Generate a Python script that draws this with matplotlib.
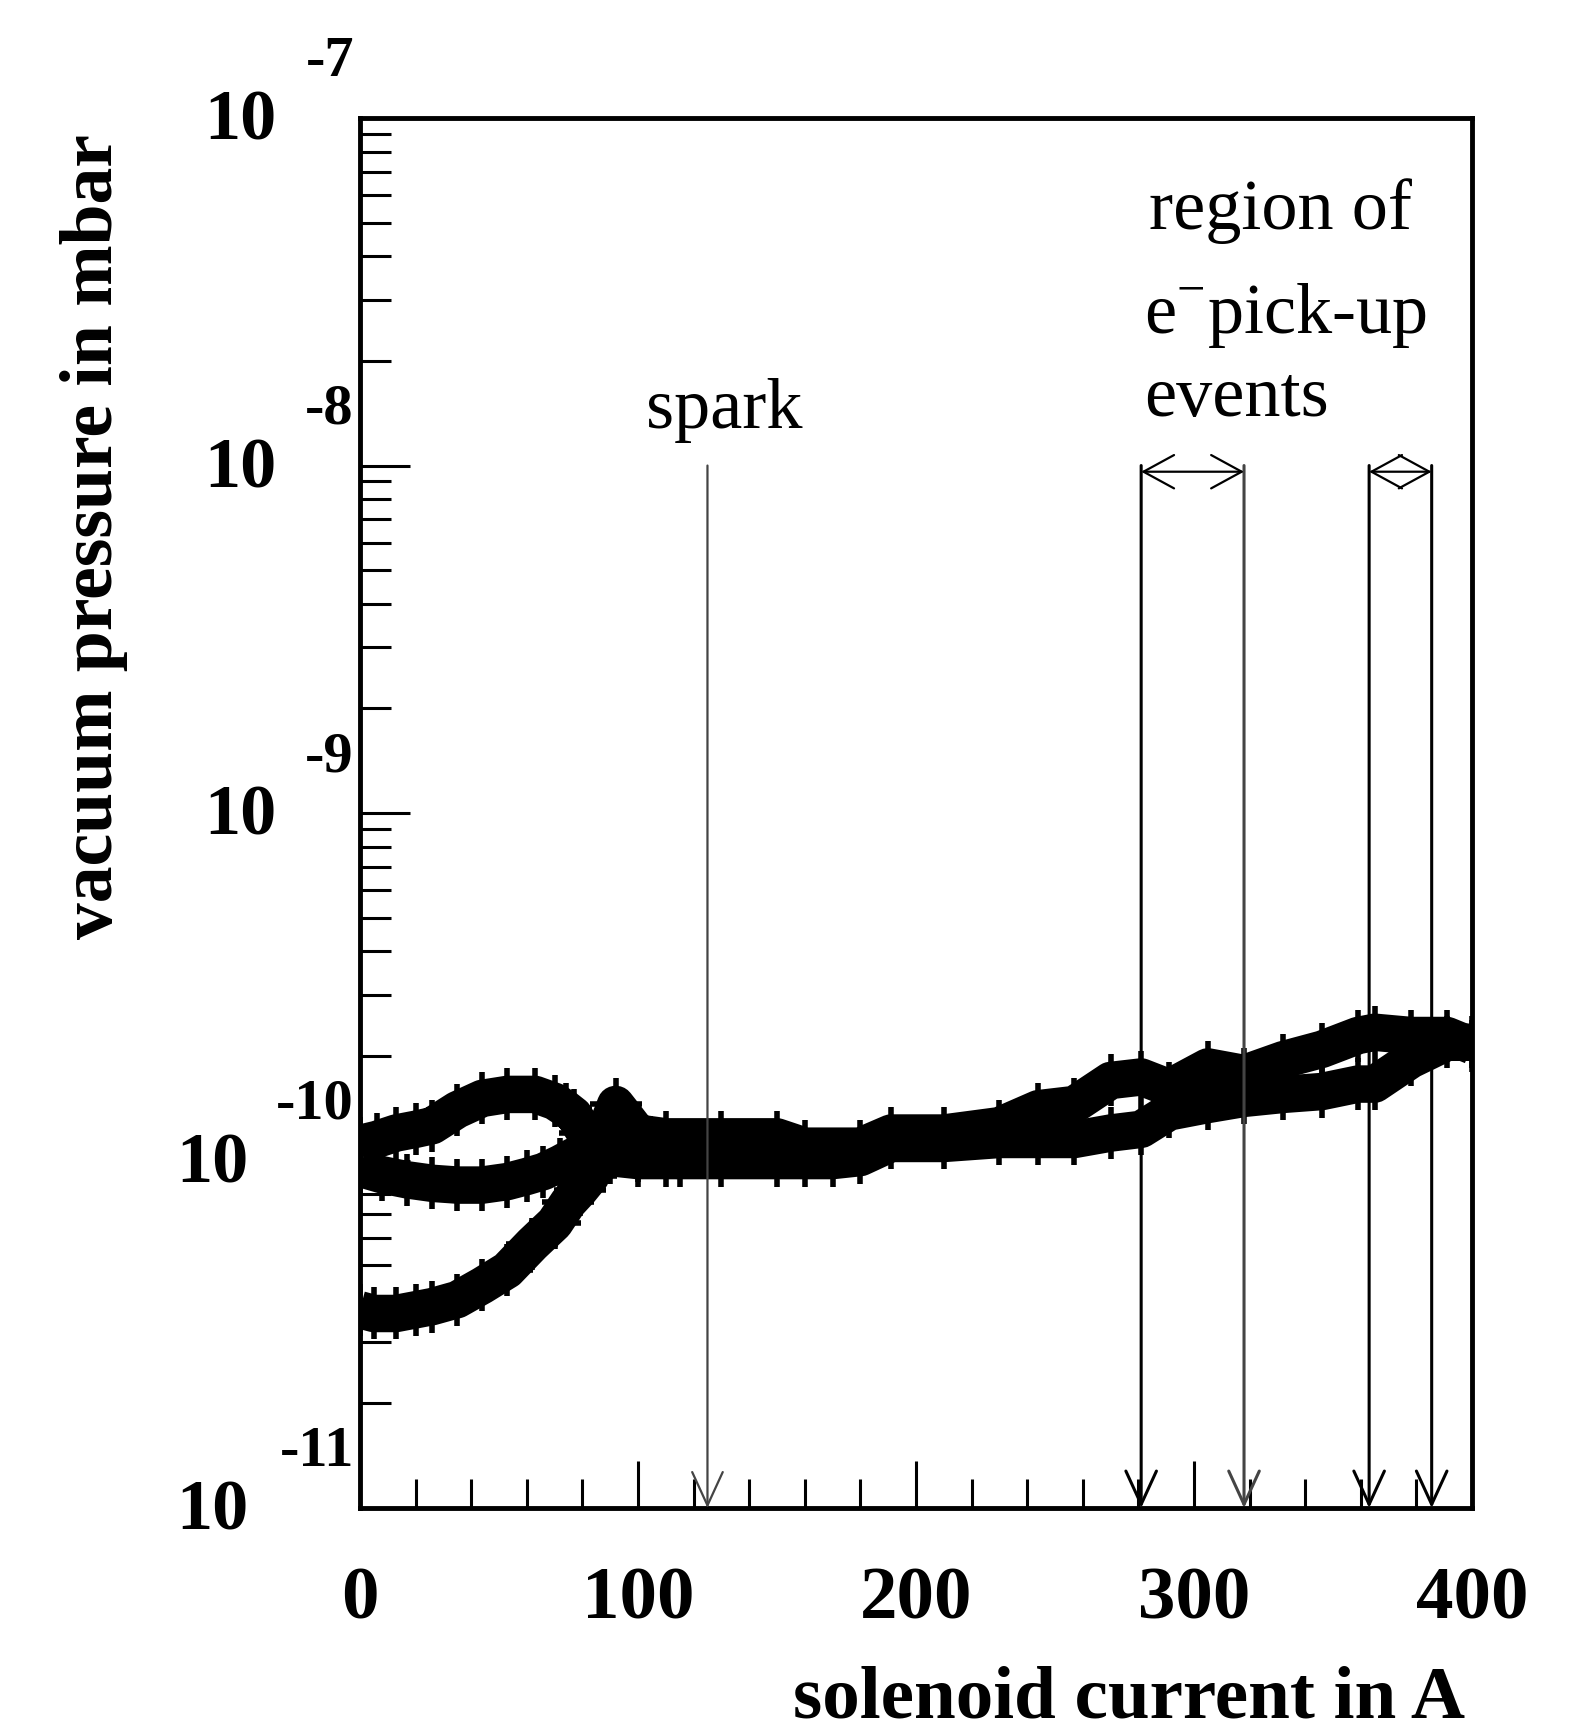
import numpy as np
import matplotlib.pyplot as plt

plt.rcParams['font.family'] = ['Liberation Serif', 'DejaVu Serif']
plt.rcParams['mathtext.fontset'] = 'custom'
plt.rcParams['mathtext.rm'] = 'Liberation Serif'

# ramp up: starts low, bump near 90 A, upper band to 400 A
up_current = [0, 5, 13, 20, 26, 35, 44, 53, 62, 70, 75, 79, 83, 88, 92, 96, 100,
              110, 130, 150, 160, 180, 191, 210, 230, 244, 257, 270, 281, 291,
              305, 318, 332, 346, 359, 365, 378, 391, 400]
up_pressure = [3.72e-11, 3.63e-11, 3.63e-11, 3.72e-11, 3.80e-11, 3.98e-11, 4.37e-11,
               4.84e-11, 5.75e-11, 6.61e-11, 7.59e-11, 8.22e-11, 9.0e-11, 1.20e-10,
               1.45e-10, 1.32e-10, 1.20e-10, 1.17e-10, 1.17e-10, 1.17e-10, 1.10e-10,
               1.10e-10, 1.20e-10, 1.20e-10, 1.26e-10, 1.41e-10, 1.45e-10, 1.70e-10,
               1.74e-10, 1.62e-10, 1.86e-10, 1.78e-10, 1.95e-10, 2.09e-10, 2.29e-10,
               2.34e-10, 2.29e-10, 2.29e-10, 2.14e-10]

# ramp down: lower band from 400 A, then upper side of the small loop
down_current = [400, 391, 378, 365, 359, 346, 332, 318, 305, 291, 281, 270, 257, 244,
                230, 210, 191, 180, 170, 160, 150, 130, 110, 100, 90, 86, 81, 77, 74,
                70, 63, 53, 44, 35, 26, 20, 13, 6, 0]
down_pressure = [2.19e-10, 2.19e-10, 1.95e-10, 1.66e-10, 1.66e-10, 1.58e-10, 1.55e-10,
                 1.51e-10, 1.45e-10, 1.38e-10, 1.23e-10, 1.20e-10, 1.15e-10, 1.15e-10,
                 1.15e-10, 1.12e-10, 1.12e-10, 1.02e-10, 1.00e-10, 1.00e-10, 1.00e-10,
                 1.00e-10, 1.00e-10, 1.00e-10, 1.02e-10, 1.07e-10, 1.20e-10, 1.35e-10,
                 1.41e-10, 1.48e-10, 1.55e-10, 1.55e-10, 1.51e-10, 1.40e-10, 1.26e-10,
                 1.23e-10, 1.20e-10, 1.15e-10, 1.12e-10]

# second ramp up: lower side of the small loop
loop_current = [0, 8, 17, 26, 35, 44, 53, 60, 66, 72, 77, 82, 90, 100, 115]
loop_pressure = [9.5e-11, 9.1e-11, 8.8e-11, 8.6e-11, 8.5e-11, 8.5e-11, 8.7e-11, 9.0e-11,
                 9.3e-11, 9.8e-11, 1.03e-10, 1.05e-10, 1.05e-10, 1.03e-10, 1.0e-10]

spark_current = 125
pickup_lines = [281, 318, 363, 385.5]
pickup_pairs = [(281, 318), (363, 385.5)]

xticks = [0, 100, 200, 300, 400]
ydecades = [-7, -8, -9, -10, -11]

fig = plt.figure(figsize=(15.85, 17.36), dpi=100)
ax = fig.add_axes([0.2271, 0.1313, 0.7016, 0.8007])
ax.set_yscale('log')
ax.set_xlim(0, 400)
ax.set_ylim(1e-11, 1e-7)

for cur, pres in [(up_current, up_pressure), (down_current, down_pressure),
                  (loop_current, loop_pressure)]:
    ax.plot(cur, pres, color='black', lw=27, solid_capstyle='butt',
            solid_joinstyle='round')
    ax.plot(cur, pres, ls='none', marker='+', ms=38, mew=4, color='black')

# event markers
ax.annotate('', xy=(spark_current, 1e-11), xytext=(spark_current, 1e-8),
            arrowprops=dict(arrowstyle='->,head_length=1.2,head_width=0.55',
                            color='#444444', lw=1.6, shrinkA=0, shrinkB=0,
                            mutation_scale=20))
for i, xl in enumerate(pickup_lines):
    col = '#444444' if i == 1 else 'black'
    ax.annotate('', xy=(xl, 1e-11), xytext=(xl, 1e-8),
                arrowprops=dict(arrowstyle='->,head_length=1.2,head_width=0.55',
                                color=col, lw=2.2, shrinkA=0, shrinkB=0,
                                mutation_scale=20))
for a, b in pickup_pairs:
    ax.annotate('', xy=(b, 9.6e-9), xytext=(a, 9.6e-9),
                arrowprops=dict(arrowstyle='<->,head_length=1.1,head_width=0.6',
                                color='black', lw=1.6, shrinkA=0, shrinkB=0,
                                mutation_scale=20))

ax.text(131, 1.28e-8, 'spark', fontsize=52, ha='center', va='baseline')
ax.text(283.8, 4.81e-8, 'region of', fontsize=52, ha='left', va='baseline')
ax.text(282, 2.41e-8, 'e$^{-}$pick-up', fontsize=52, ha='left', va='baseline')
ax.text(282, 1.39e-8, 'events', fontsize=52, ha='left', va='baseline')

# axes styling
for s in ax.spines.values():
    s.set_linewidth(3.5)
ax.set_xticks(xticks)
ax.set_xticks(np.arange(0, 401, 20), minor=True)
ax.set_xticklabels([str(v) for v in xticks], fontsize=54, fontweight='bold')
ax.tick_params(axis='x', which='major', direction='in', length=34, width=2.2, pad=42)
ax.tick_params(axis='x', which='minor', direction='in', length=21, width=2.2)
ax.tick_params(axis='y', which='major', direction='in', length=36, width=2.2,
               labelleft=False)
ax.tick_params(axis='y', which='minor', direction='in', length=22, width=2.2)
ax.yaxis.set_minor_locator(plt.matplotlib.ticker.LogLocator(base=10, subs=np.arange(2, 10)))
ax.yaxis.set_minor_formatter(plt.NullFormatter())

for e in ydecades:
    exp = str(e)
    ax.annotate(exp, xy=(0, 10.0 ** e), xycoords=('axes fraction', 'data'),
                xytext=(-6, 56), textcoords='offset pixels', ha='right', va='center',
                fontsize=42, fontweight='bold', annotation_clip=False)
    off = -83 if len(exp) == 2 else -111
    ax.annotate('10', xy=(0, 10.0 ** e), xycoords=('axes fraction', 'data'),
                xytext=(off, -4), textcoords='offset pixels', ha='right', va='center',
                fontsize=52, fontweight='bold', annotation_clip=False)

fig.text(0.0593, 0.6907, 'vacuum pressure in mbar', rotation=90, ha='center',
         va='center', fontsize=53, fontweight='bold')
fig.text(0.9243, 0.0105, 'solenoid current in A', ha='right', va='baseline',
         fontsize=54, fontweight='bold')

fig.savefig('out.png', dpi=100)
